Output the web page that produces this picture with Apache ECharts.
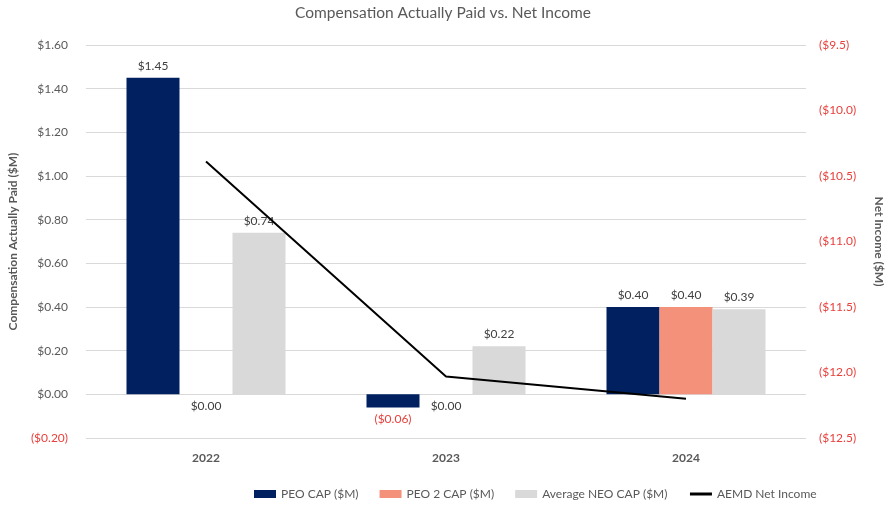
<!DOCTYPE html>
<html>
<head>
<meta charset="utf-8">
<script src="https://cdn.jsdelivr.net/npm/echarts@6/dist/echarts.min.js"></script>
<style>
html,body{margin:0;padding:0;background:#fff;}
#c{width:886px;height:508px;}
</style>
</head>
<body>
<div id="c"></div>
<script>
const categories = ['2022', '2023', '2024'];
const peoCap = [1.45, -0.06, 0.40];
const peo2Cap = [0.00, 0.00, 0.40];
const neoCap = [0.74, 0.22, 0.39];
const netIncome = [-10.39, -12.03, -12.20];
const leftTicks = { min: -0.2, max: 1.6, interval: 0.2 };
const rightTicks = { min: -12.5, max: -9.5, interval: 0.5 };

const RED = '#e8413c';
const GREY_TXT = '#595959';
const FONT = 'Lato, "Open Sans", sans-serif';

function money(v) {
  const a = Math.abs(v).toFixed(2);
  return v < -1e-9 ? '($' + a + ')' : '$' + a;
}
function barData(arr) {
  return arr.map(v => ({
    value: v,
    label: {
      position: v <= 0 ? 'bottom' : 'top',
      color: v < 0 ? RED : '#404040'
    }
  }));
}
function barSeries(name, arr, color) {
  return {
    name: name,
    type: 'bar',
    data: barData(arr),
    barWidth: 53,
    barGap: '0%',
    itemStyle: { color: color },
    label: {
      show: true,
      distance: 6,
      fontSize: 12,
      fontFamily: FONT,
      formatter: p => money(p.value)
    }
  };
}

const chart = echarts.init(document.getElementById('c'));
chart.setOption({
  animation: false,
  backgroundColor: '#fff',
  textStyle: { fontFamily: FONT },
  title: {
    text: 'Compensation Actually Paid vs. Net Income',
    left: 'center',
    top: 0,
    textStyle: { fontSize: 15.5, fontWeight: 'normal', color: GREY_TXT, fontFamily: FONT }
  },
  grid: { left: 86, right: 80, top: 45, bottom: 70, containLabel: false, outerBoundsMode: 'none' },
  legend: {
    bottom: 3,
    left: 249,
    itemWidth: 22,
    itemHeight: 8,
    itemGap: 21,
    textStyle: { fontSize: 12, color: GREY_TXT, fontFamily: FONT },
    data: [
      { name: 'PEO CAP ($M)', icon: 'rect' },
      { name: 'PEO 2 CAP ($M)', icon: 'rect' },
      { name: 'Average NEO CAP ($M)', icon: 'rect' },
      { name: 'AEMD Net Income', itemStyle: { opacity: 0 }, lineStyle: { width: 3, color: '#000' } }
    ]
  },
  xAxis: {
    type: 'category',
    data: categories,
    axisLine: { show: false, onZero: false },
    axisTick: { show: false },
    axisLabel: { fontSize: 12, fontWeight: 'bold', color: GREY_TXT, margin: 14, fontFamily: FONT }
  },
  yAxis: [
    {
      type: 'value',
      min: leftTicks.min,
      max: leftTicks.max,
      interval: leftTicks.interval,
      name: 'Compensation Actually Paid ($M)',
      nameLocation: 'middle',
      nameGap: 67,
      nameTextStyle: { fontSize: 12, fontWeight: 'bold', color: GREY_TXT, fontFamily: FONT },
      axisLine: { show: false },
      axisTick: { show: false },
      axisLabel: {
        fontSize: 12,
        margin: 18,
        fontFamily: FONT,
        color: v => (v < -1e-9 ? RED : GREY_TXT),
        formatter: v => money(v)
      },
      splitLine: { lineStyle: { color: '#d9d9d9', width: 1 } }
    },
    {
      type: 'value',
      min: rightTicks.min,
      max: rightTicks.max,
      interval: rightTicks.interval,
      position: 'right',
      name: 'Net Income ($M)',
      nameLocation: 'middle',
      nameGap: 67,
      nameRotate: -90,
      nameTextStyle: { fontSize: 12, fontWeight: 'bold', color: GREY_TXT, fontFamily: FONT },
      axisLine: { show: false },
      axisTick: { show: false },
      axisLabel: {
        fontSize: 12,
        margin: 13,
        color: RED,
        fontFamily: FONT,
        formatter: v => '($' + Math.abs(v).toFixed(1) + ')'
      },
      splitLine: { show: false }
    }
  ],
  series: [
    barSeries('PEO CAP ($M)', peoCap, '#002060'),
    barSeries('PEO 2 CAP ($M)', peo2Cap, '#f4917a'),
    barSeries('Average NEO CAP ($M)', neoCap, '#d9d9d9'),
    {
      name: 'AEMD Net Income',
      type: 'line',
      yAxisIndex: 1,
      data: netIncome,
      showSymbol: false,
      symbol: 'none',
      lineStyle: { color: '#000', width: 2 },
      itemStyle: { color: '#000' }
    }
  ]
});
</script>
</body>
</html>
